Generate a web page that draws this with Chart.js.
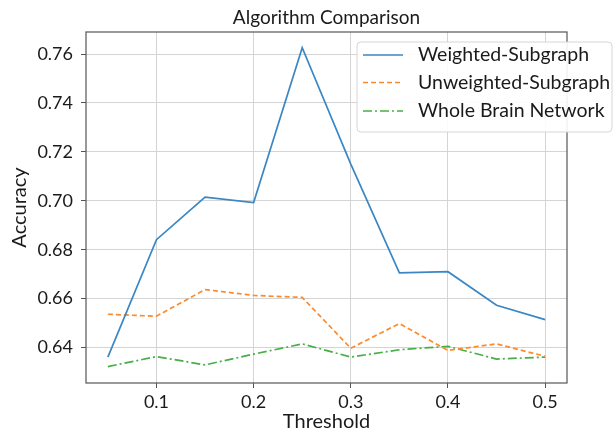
<!DOCTYPE html>
<html>
<head>
<meta charset="utf-8">
<script src="https://cdn.jsdelivr.net/npm/chart.js@4/dist/chart.umd.min.js"></script>
<style>
html,body{margin:0;padding:0;background:#fff;}
#wrap{width:613px;height:432px;position:relative;}
</style>
</head>
<body>
<div id="wrap"><canvas id="c" width="613" height="432"></canvas></div>
<script>
const thresholds = [0.05, 0.1, 0.15, 0.2, 0.25, 0.3, 0.35, 0.4, 0.45, 0.5];
const weighted = [0.6361, 0.6841, 0.7015, 0.6993, 0.7626, 0.7150, 0.6705, 0.6710, 0.6573, 0.6514];
const unweighted = [0.6536, 0.6528, 0.6637, 0.6613, 0.6605, 0.6397, 0.6498, 0.6388, 0.6415, 0.6364];
const wholeBrain = [0.6322, 0.6363, 0.6329, 0.6373, 0.6415, 0.6361, 0.6391, 0.6405, 0.6353, 0.6361];
const xTicks = [0.1, 0.2, 0.3, 0.4, 0.5];
const yTicks = [0.64, 0.66, 0.68, 0.70, 0.72, 0.74, 0.76];
const seriesNames = ['Weighted-Subgraph', 'Unweighted-Subgraph', 'Whole Brain Network'];
const chartTitle = 'Algorithm Comparison';

const FONT = "Lato, 'Open Sans', sans-serif";
const colors = ['#3a87c4', '#fd8a2c', '#48ae48'];
const dashes = [[], [5, 3], [9, 3, 2, 3]];

function pts(vals){ return thresholds.map((x,i)=>({x:x, y:vals[i]})); }

const decorPlugin = {
  id: 'decor',
  afterDraw(chart){
    const ctx = chart.ctx;
    const a = chart.chartArea;
    ctx.save();
    // title centred over plot area
    ctx.fillStyle = '#1a1a1a';
    ctx.font = '19px ' + FONT;
    ctx.textAlign = 'center';
    ctx.textBaseline = 'alphabetic';
    ctx.fillText(chartTitle, (a.left + a.right) / 2, 24);
    // frame
    ctx.strokeStyle = '#555';
    ctx.lineWidth = 1.2;
    ctx.strokeRect(a.left, a.top, a.right - a.left, a.bottom - a.top);
    // legend box
    const bx = 357, by = 42, bw = 255, bh = 90, r = 4;
    ctx.beginPath();
    ctx.moveTo(bx + r, by);
    ctx.lineTo(bx + bw - r, by); ctx.quadraticCurveTo(bx + bw, by, bx + bw, by + r);
    ctx.lineTo(bx + bw, by + bh - r); ctx.quadraticCurveTo(bx + bw, by + bh, bx + bw - r, by + bh);
    ctx.lineTo(bx + r, by + bh); ctx.quadraticCurveTo(bx, by + bh, bx, by + bh - r);
    ctx.lineTo(bx, by + r); ctx.quadraticCurveTo(bx, by, bx + r, by);
    ctx.closePath();
    ctx.fillStyle = 'rgba(255,255,255,0.9)';
    ctx.fill();
    ctx.strokeStyle = '#d6d6d6';
    ctx.lineWidth = 1;
    ctx.stroke();
    const rows = [55, 82.5, 111];
    chart.data.datasets.forEach((ds, i) => {
      ctx.beginPath();
      ctx.setLineDash(dashes[i]);
      ctx.strokeStyle = ds.borderColor;
      ctx.lineWidth = 1.7;
      ctx.moveTo(363, rows[i]);
      ctx.lineTo(403, rows[i]);
      ctx.stroke();
      ctx.setLineDash([]);
      ctx.fillStyle = '#1a1a1a';
      ctx.font = '19.5px ' + FONT;
      ctx.textBaseline = 'middle';
      ctx.textAlign = 'left';
      ctx.fillText(ds.label, 418, rows[i]);
    });
    ctx.restore();
  }
};

new Chart(document.getElementById('c'), {
  type: 'line',
  data: {
    datasets: [
      { label: seriesNames[0], data: pts(weighted), borderColor: colors[0], borderDash: dashes[0] },
      { label: seriesNames[1], data: pts(unweighted), borderColor: colors[1], borderDash: dashes[1] },
      { label: seriesNames[2], data: pts(wholeBrain), borderColor: colors[2], borderDash: dashes[2] }
    ]
  },
  options: {
    responsive: false,
    animation: false,
    devicePixelRatio: 1,
    layout: { padding: { left: 0, right: 46, top: 32, bottom: 0 } },
    elements: {
      point: { radius: 0, hoverRadius: 0 },
      line: { borderWidth: 1.7, tension: 0, fill: false }
    },
    plugins: {
      legend: { display: false },
      tooltip: { enabled: false },
      title: { display: false }
    },
    scales: {
      x: {
        type: 'linear',
        min: 0.0275, max: 0.5225,
        afterBuildTicks(axis){ axis.ticks = xTicks.map(v => ({ value: v })); },
        afterFit(axis){ axis.height = 49; },
        ticks: {
          callback: v => v.toFixed(1),
          color: '#1a1a1a',
          font: { family: FONT, size: 18 },
          padding: 3,
          maxRotation: 0
        },
        grid: { color: '#d4d4d4', lineWidth: 1, tickColor: '#555', tickLength: 5 },
        border: { display: false },
        title: {
          display: true, text: 'Threshold', color: '#1a1a1a',
          font: { family: FONT, size: 20 }, padding: { top: 0, bottom: -2 }
        }
      },
      y: {
        type: 'linear',
        min: 0.6255, max: 0.769,
        afterBuildTicks(axis){ axis.ticks = yTicks.map(v => ({ value: v })); },
        afterFit(axis){ axis.width = 86; },
        ticks: {
          callback: v => v.toFixed(2),
          color: '#1a1a1a',
          font: { family: FONT, size: 18 },
          padding: 8
        },
        grid: { color: '#d4d4d4', lineWidth: 1, tickColor: '#555', tickLength: 5 },
        border: { display: false },
        title: {
          display: true, text: 'Accuracy', color: '#1a1a1a',
          font: { family: FONT, size: 20 }, padding: { top: 8, bottom: 0 }
        }
      }
    }
  },
  plugins: [decorPlugin]
});
</script>
</body>
</html>
